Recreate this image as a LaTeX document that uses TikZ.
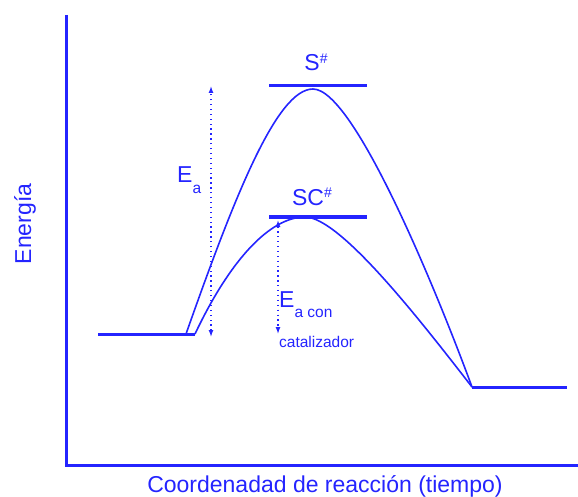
\documentclass[tikz,border=0pt]{standalone}
\usepackage{fontspec}
\setmainfont{Liberation Sans}
\definecolor{EnBlue}{HTML}{2424FF}
\usetikzlibrary{arrows.meta}
\tikzset{
  axis/.style={draw=EnBlue, line width=3pt},
  level/.style={draw=EnBlue, line width=3pt},
  curve/.style={draw=EnBlue, line width=1.6pt},
  eaarrow/.style={{Latex[length=7pt,width=5pt]}-{Latex[length=7pt,width=5pt]}, draw=EnBlue, line width=1.3pt, dash pattern=on 1.3pt off 3.6pt},
  bigtxt/.style={text=EnBlue, inner sep=0pt, font=\fontsize{23}{26}\selectfont},
  smalltxt/.style={text=EnBlue, inner sep=0pt, font=\fontsize{15.5}{18}\selectfont}
}
\newcommand{\lowsub}[1]{\raisebox{-10pt}{\fontsize{15.5}{18}\selectfont #1}}
\newcommand{\hisup}[1]{\raisebox{7.5pt}{\fontsize{14}{16}\selectfont #1}}

\begin{document}
\begin{tikzpicture}[x=1pt, y=-1pt]
    \useasboundingbox (0,0) rectangle (578,497);

    % axes
    \coordinate (origin) at (66,465);
    \coordinate (ytop) at (66,15);
    \coordinate (xend) at (578,465);
    \draw[axis] (ytop) -- (origin) -- (xend);
    \node[bigtxt, rotate=90, anchor=base] (ylab) at (31,224) {Energía};
    \node[bigtxt, anchor=base] (xlab) at (325,492) {Coordenadad de reacción (tiempo)};

    % levels
    \coordinate (reacL) at (98,334);
    \coordinate (reacR) at (195,334);
    \coordinate (prodL) at (472,387);
    \coordinate (prodR) at (567,387);
    \coordinate (sL) at (269,86);
    \coordinate (sR) at (367,86);
    \coordinate (scL) at (269,217);
    \coordinate (scR) at (367,217);
    \draw[level] (reacL) -- (reacR);
    \draw[level] (prodL) -- (prodR);
    \draw[level] (sL) -- (sR);
    \draw[level] (scL) -- (scR);
    \node[bigtxt, anchor=base] (slab) at (316,71) {S\hisup{\#}};
    \node[bigtxt, anchor=base] (sclab) at (312,205) {SC\hisup{\#}};

    % reaction paths
    \coordinate (upStart) at (186,334);
    \coordinate (upTop) at (313,89);
    \coordinate (catTop) at (305,217);
    \draw[curve] (upStart) .. controls (235,195) and (277,89) .. (upTop)
                           .. controls (355,89) and (440,300) .. (prodL);
    \draw[curve] (reacR) .. controls (230,260) and (270,217) .. (catTop)
                         .. controls (340,217) and (420,320) .. (prodL);

    % activation energies
    \coordinate (eaTop) at (211,86);
    \coordinate (eaBot) at (211,337);
    \coordinate (ecTop) at (278,220);
    \coordinate (ecBot) at (278,334);
    \draw[eaarrow] (eaBot) -- (eaTop);
    \draw[eaarrow] (ecTop) -- (ecBot);
    \node[bigtxt, anchor=base west] (ealab) at (177,183) {E\lowsub{a}};
    \node[bigtxt, anchor=base west] (eclab) at (279,307) {E\lowsub{a con}};
    \node[smalltxt, anchor=base west] (catlab) at (279,347) {catalizador};
\end{tikzpicture}
\end{document}
